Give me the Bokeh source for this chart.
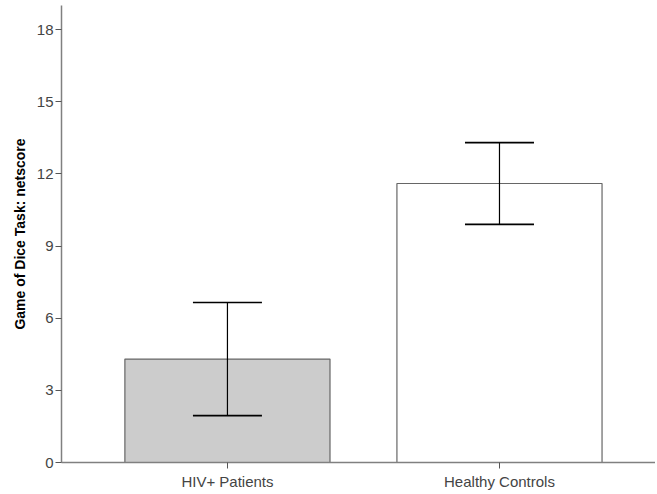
from bokeh.plotting import figure
from bokeh.models import ColumnDataSource, FixedTicker, Range1d, Whisker, TeeHead
from bokeh.embed import file_html
from bokeh.resources import INLINE

groups = ["HIV+ Patients", "Healthy Controls"]
means = [4.3, 11.6]
lower = [1.95, 9.9]
upper = [6.65, 13.3]
fills = ["#cccccc", "#ffffff"]
yticks = [0, 3, 6, 9, 12, 15, 18]

xs = [i + 1 for i in range(len(groups))]
src = ColumnDataSource(dict(x=xs, top=means, lower=lower, upper=upper, fill=fills))

p = figure(output_backend="svg", toolbar_location=None,
           frame_width=594, frame_height=457,
           x_range=Range1d(0.39, 2.5735), y_range=Range1d(0, 19.0),
           min_border_left=61, min_border_right=0, min_border_top=5, min_border_bottom=0)
p.outline_line_color = None
p.grid.visible = False
p.background_fill_color = "white"

p.vbar(x="x", top="top", width=0.754, bottom=0, source=src,
       fill_color="fill", line_color="#666666", line_width=1.2)

w = Whisker(base="x", upper="upper", lower="lower", source=src,
            line_color="black", line_width=1.2, level="overlay",
            upper_head=TeeHead(size=69, line_color="black", line_width=1.6),
            lower_head=TeeHead(size=69, line_color="black", line_width=1.6))
p.add_layout(w)

for ax in (p.xaxis[0], p.yaxis[0]):
    ax.axis_line_color = "#808080"
    ax.axis_line_width = 1.5
    ax.major_tick_line_color = "#555555"
    ax.major_tick_out = 6
    ax.major_tick_in = 0
    ax.minor_tick_line_color = None
    ax.major_label_text_font = "Liberation Sans"
    ax.major_label_text_font_size = "15px"
    ax.major_label_text_color = "#444444"

p.xaxis.major_label_standoff = 4
p.yaxis.major_label_standoff = 2
p.xaxis.ticker = FixedTicker(ticks=xs)
p.xaxis.major_label_overrides = {x: g for x, g in zip(xs, groups)}
p.yaxis.ticker = FixedTicker(ticks=yticks)
p.yaxis.axis_label = "Game of Dice Task: netscore"
p.yaxis.axis_label_text_font = "Liberation Sans"
p.yaxis.axis_label_text_font_style = "bold"
p.yaxis.axis_label_text_font_size = "14px"
p.yaxis.axis_label_text_color = "black"
p.yaxis.axis_label_standoff = 6

open("out.html", "w").write(file_html(p, INLINE))
